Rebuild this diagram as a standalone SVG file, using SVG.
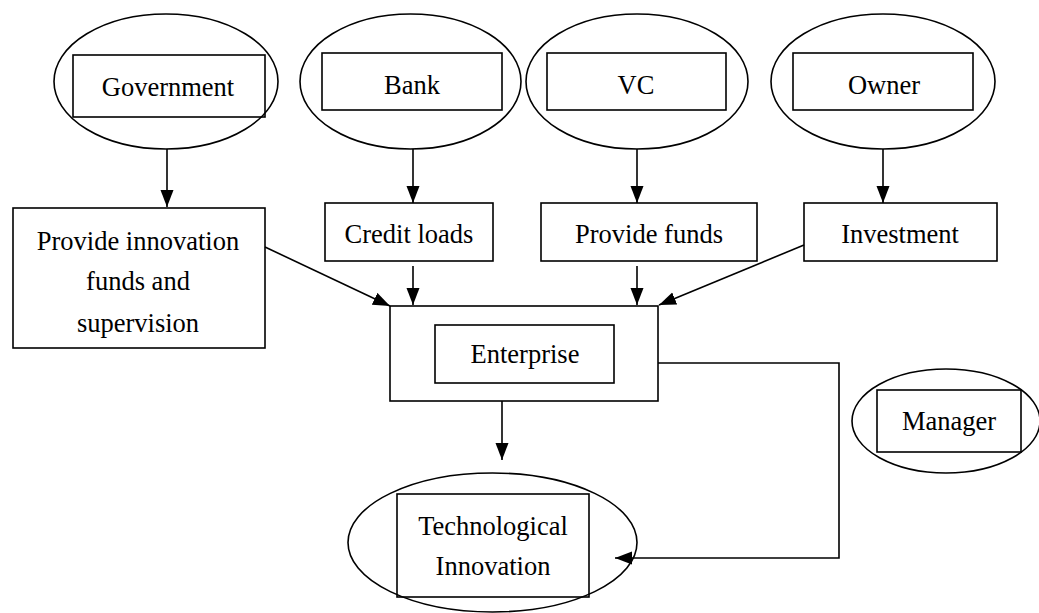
<svg xmlns="http://www.w3.org/2000/svg" width="1039" height="613" viewBox="0 0 1039 613">
<defs>
<marker id="ah" markerUnits="userSpaceOnUse" markerWidth="18" markerHeight="14" refX="17" refY="7" orient="auto">
<path d="M0,0.5 L17,7 L0,13.5 z" fill="#000"/>
</marker>
<style>
.s{fill:none;stroke:#000;stroke-width:1.6}
.w{fill:#fff;stroke:#000;stroke-width:1.6}
.t{font-family:"Liberation Serif","Times New Roman",serif;font-size:26.5px;fill:#000;text-anchor:middle}
.c{fill:none;stroke:#000;stroke-width:1.6;marker-end:url(#ah)}
</style>
</defs>
<rect width="1039" height="613" fill="#fff"/>
<g id="government">
<ellipse class="s" cx="166" cy="81.5" rx="112" ry="67.5"/>
<rect class="s" x="73" y="55" width="192" height="62"/>
<text class="t" x="168" y="96">Government</text>
</g>
<g id="bank">
<ellipse class="s" cx="410.5" cy="81.5" rx="110.5" ry="67.5"/>
<rect class="s" x="322" y="53" width="180" height="57"/>
<text class="t" x="412" y="94">Bank</text>
</g>
<g id="vc">
<ellipse class="s" cx="637" cy="81.5" rx="111" ry="67.5"/>
<rect class="s" x="547" y="53" width="179" height="57"/>
<text class="t" x="636" y="94">VC</text>
</g>
<g id="owner">
<ellipse class="s" cx="883" cy="81.5" rx="112" ry="67.5"/>
<rect class="s" x="793" y="53" width="180" height="57"/>
<text class="t" x="884" y="94">Owner</text>
</g>
<g id="provide-innovation">
<rect class="s" x="13" y="208" width="252" height="140"/>
<text class="t" x="138" y="250">Provide innovation</text>
<text class="t" x="138" y="290">funds and</text>
<text class="t" x="138" y="332">supervision</text>
</g>
<g id="credit-loads">
<rect class="s" x="325" y="203" width="168" height="58"/>
<text class="t" x="409" y="243">Credit loads</text>
</g>
<g id="provide-funds">
<rect class="s" x="541" y="203" width="216" height="58"/>
<text class="t" x="649" y="243">Provide funds</text>
</g>
<g id="investment">
<rect class="s" x="804" y="203" width="193" height="58"/>
<text class="t" x="900" y="243">Investment</text>
</g>
<g id="enterprise">
<rect class="s" x="390" y="306" width="268" height="95"/>
<rect class="s" x="435" y="325" width="179" height="58"/>
<text class="t" x="525" y="363">Enterprise</text>
</g>
<g id="manager">
<ellipse class="s" cx="946" cy="421" rx="94" ry="52"/>
<rect class="s" x="877" y="390" width="144" height="62"/>
<text class="t" x="949" y="430">Manager</text>
</g>
<g id="technological-innovation">
<ellipse class="s" cx="492.5" cy="542.5" rx="144.5" ry="69.5"/>
<rect class="s" x="397" y="494" width="192" height="103"/>
<text class="t" x="493" y="535">Technological</text>
<text class="t" x="493" y="575">Innovation</text>
</g>
<g id="connectors">
<line class="c" x1="167" y1="149" x2="167" y2="207"/>
<line class="c" x1="413" y1="149" x2="413" y2="203"/>
<line class="c" x1="637" y1="149" x2="637" y2="203"/>
<line class="c" x1="883" y1="149" x2="883" y2="203"/>
<line class="c" x1="413" y1="266" x2="413" y2="305"/>
<line class="c" x1="637" y1="266" x2="637" y2="305"/>
<line class="c" x1="265" y1="247" x2="390" y2="306"/>
<line class="c" x1="804" y1="245" x2="659" y2="305"/>
<line class="c" x1="502" y1="401" x2="502" y2="460"/>
<polyline class="c" points="658,363 839,363 839,558 615,558"/>
</g>
</svg>
